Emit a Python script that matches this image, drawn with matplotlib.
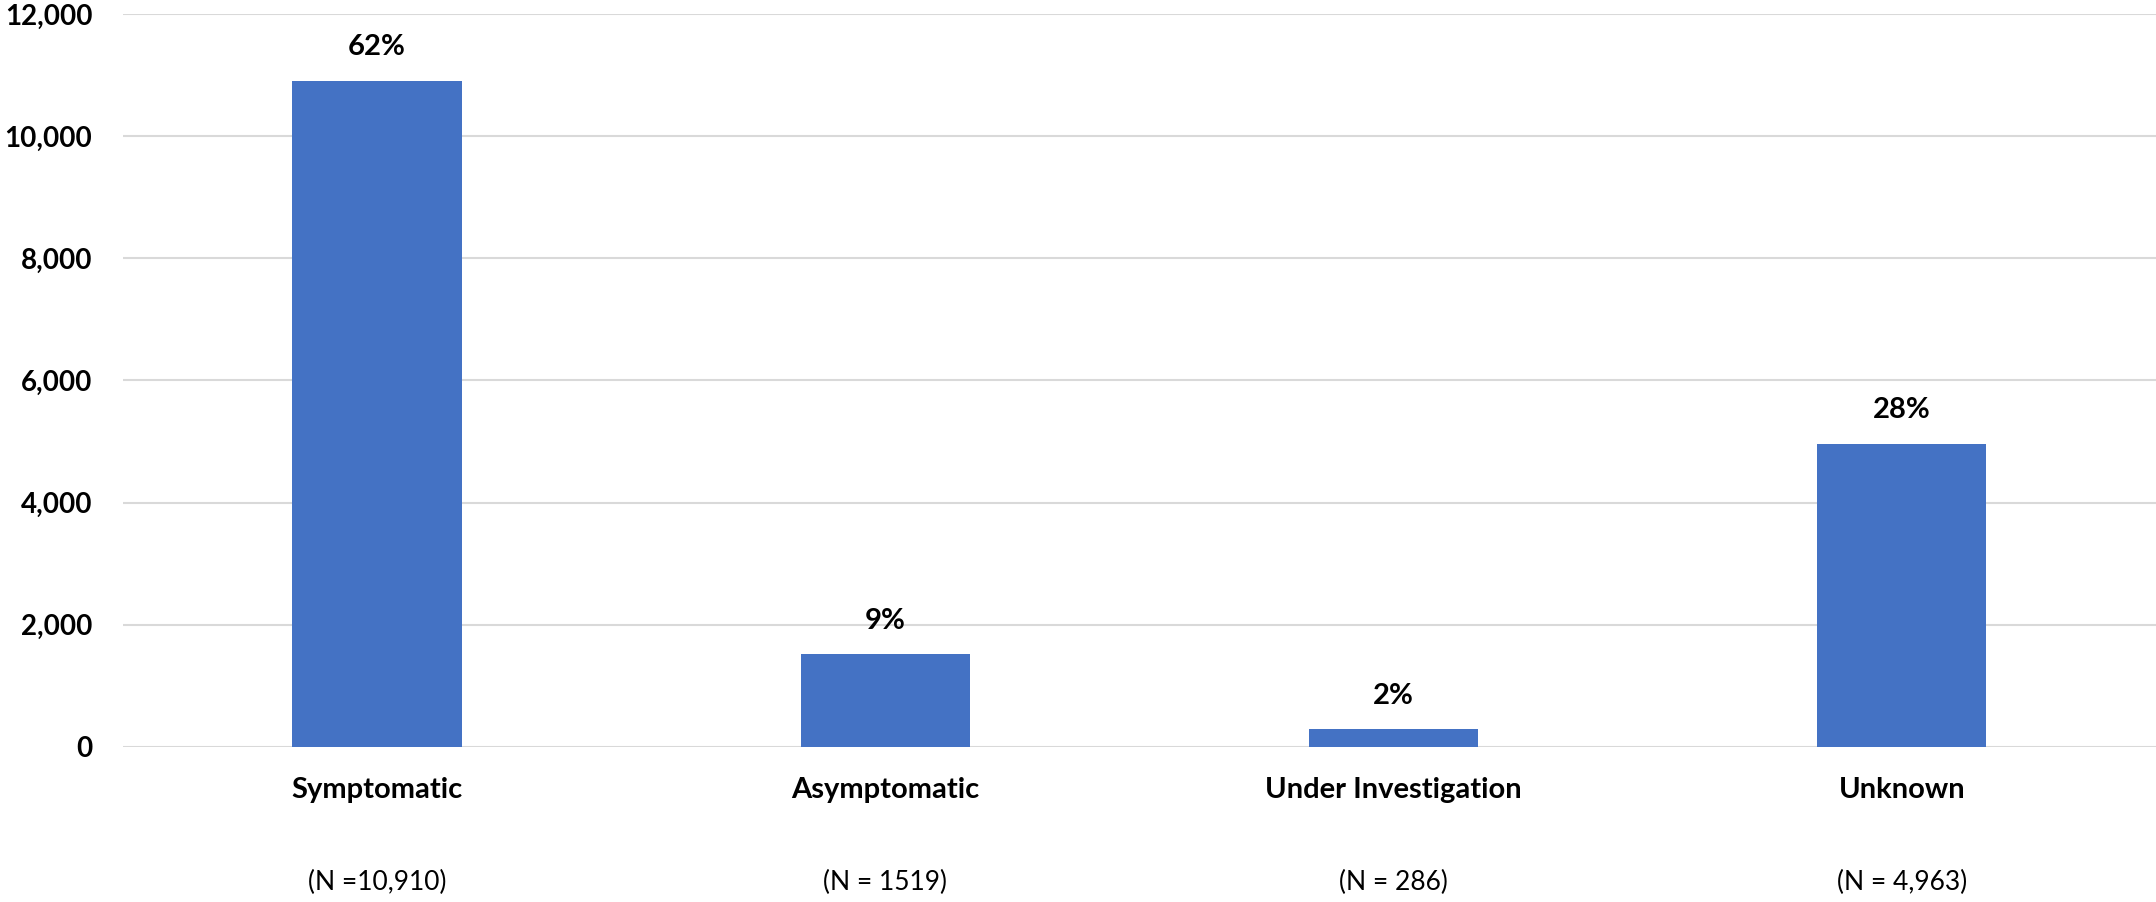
import matplotlib.pyplot as plt
import matplotlib.transforms as mtransforms

categories = ['Symptomatic', 'Asymptomatic', 'Under Investigation', 'Unknown']
counts = [10910, 1519, 286, 4963]
pct_labels = ['62%', '9%', '2%', '28%']
n_labels = ['(N =10,910)', '(N = 1519)', '(N = 286)', '(N = 4,963)']
y_ticks = [0, 2000, 4000, 6000, 8000, 10000, 12000]

plt.rcParams['font.family'] = ['Lato', 'DejaVu Sans']

fig = plt.figure(figsize=(21.56, 9.02), dpi=100)
ax = fig.add_axes([0.057, 0.172, 0.943, 0.8125])

x = range(len(categories))
bars = ax.bar(x, counts, width=0.333, color='#4472C4', zorder=3)

# percentage labels above bars
for b, lab in zip(bars, pct_labels):
    ax.annotate(lab, (b.get_x() + b.get_width() / 2, b.get_height()),
                xytext=(0, 24), textcoords='offset points',
                ha='center', va='center', fontsize=21, fontweight='bold')

ax.set_xlim(-0.5, len(categories) - 0.5)
ax.set_ylim(0, 12000)
ax.set_yticks(y_ticks)
ax.set_yticklabels([f'{v:,}' for v in y_ticks], fontsize=20, fontweight='bold')
ax.set_xticks(list(x))
ax.set_xticklabels(categories, fontsize=21, fontweight='bold')
ax.tick_params(axis='both', length=0)
ax.tick_params(axis='y', pad=22)
ax.tick_params(axis='x', pad=22)

ax.grid(axis='y', color='#d9d9d9', linewidth=1.5, zorder=0)
for s in ax.spines.values():
    s.set_visible(False)

# sample sizes under the category names
trans = mtransforms.blended_transform_factory(ax.transData, ax.transAxes)
for i, lab in enumerate(n_labels):
    ax.text(i, -0.1855, lab, transform=trans, ha='center', va='center', fontsize=19)

fig.savefig('out.png', dpi=100)
